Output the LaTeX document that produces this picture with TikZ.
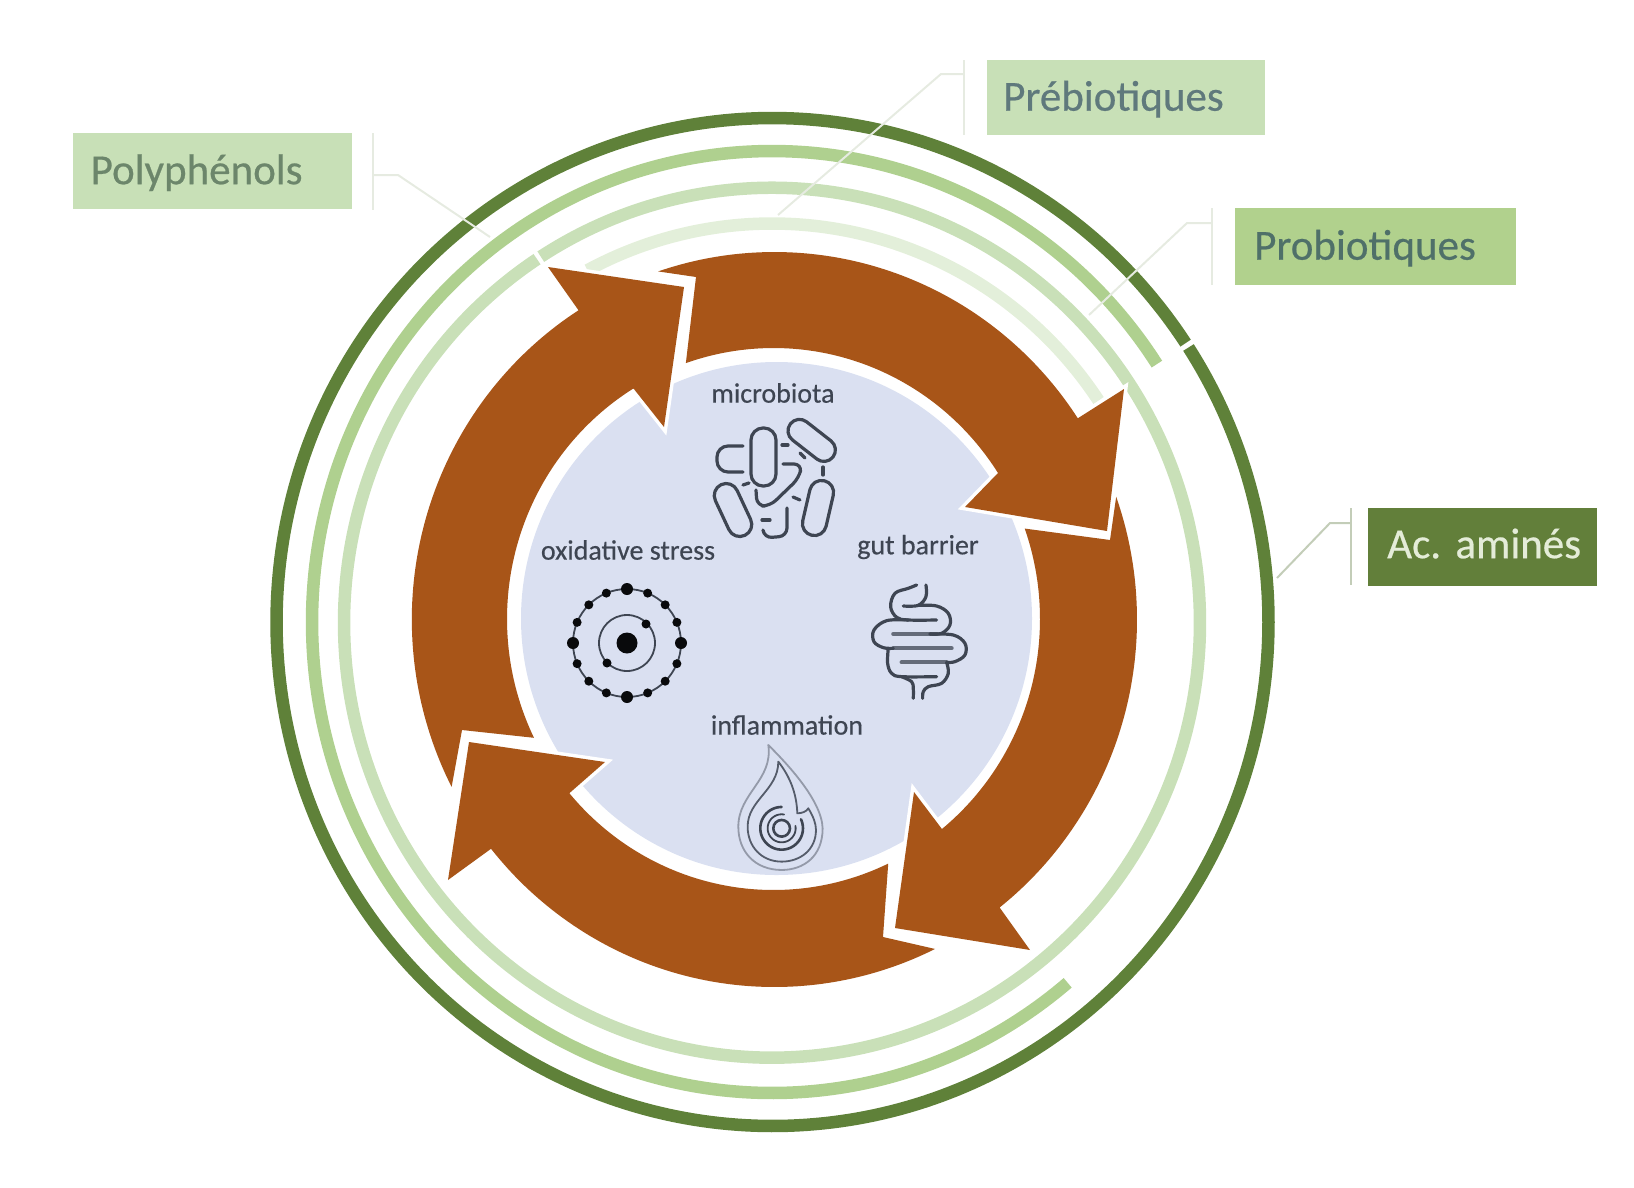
\documentclass[tikz,border=0pt]{standalone}
\usepackage{fontspec}
\setmainfont{Carlito}
\definecolor{ringA}{HTML}{5F8139}
\definecolor{ringB}{HTML}{AFD08F}
\definecolor{ringC}{HTML}{C9E0B8}
\definecolor{ringD}{HTML}{E3EFDA}
\definecolor{boxA}{HTML}{C8E0B7}
\definecolor{boxB}{HTML}{B1D18D}
\definecolor{boxC}{HTML}{627F3A}
\definecolor{rust}{HTML}{A85518}
\definecolor{discblue}{HTML}{DAE0F1}
\definecolor{ink}{HTML}{3E4552}
\definecolor{leadfaint}{HTML}{E6EBE1}
\definecolor{leaddark}{HTML}{C3CDB8}
\definecolor{txtpoly}{HTML}{6C866B}
\definecolor{txtpreb}{HTML}{5F797C}
\definecolor{txtprob}{HTML}{4F7069}
\definecolor{txtacam}{HTML}{E4ECD8}
\newcommand{\outarc}[2]{plot[domain=#1:#2,samples=80] ({774.4+362.6*cos(\x)},{619.5+367.5*sin(\x)})}
\newcommand{\inarc}[2]{-- plot[domain=#1:#2,samples=80] ({773.5+266.5*cos(\x)},{619+271*sin(\x)})}
\tikzset{
  ringline/.style={line width=12.5pt,line cap=butt},
  lblbox/.style={anchor=north west,inner ysep=0pt,align=left,
                 font=\fontsize{43}{46}\selectfont\addfontfeature{FakeBold=0.5},
                 text height=31pt,text depth=5pt},
  ilabel/.style={font=\fontsize{28}{30}\selectfont\addfontfeature{FakeBold=0.4},text=ink,inner sep=0pt},
  arrowseg/.style={fill=rust,preaction={draw=white,line width=7pt,line join=miter}},
  iconline/.style={draw=ink,line width=3.2pt,line cap=round,line join=round},
  thinicon/.style={draw=ink,line width=1.8pt,line cap=round,line join=round},
  gutfill/.style={draw=ink!75!discblue,line width=4.2pt,line cap=round},
  leadline/.style={line width=2pt,draw=leadfaint},
}
\begin{document}
\begin{tikzpicture}[x=1pt,y=-1pt]
\useasboundingbox (0,0) rectangle (1634,1187);
% rings
\draw[ringline,ringA] plot[domain=327:686.4,samples=360] ({772.5+496*cos(\x)},{622+504*sin(\x)});
\draw[ringline,ringB] plot[domain=50:326.8,samples=300] ({772+460*cos(\x)},{622+471*sin(\x)});
\draw[ringline,ringC] plot[domain=237.3:596.7,samples=360] ({772+428*cos(\x)},{622.7+435*sin(\x)});
\draw[ringline,ringD] plot[domain=242:326.2,samples=100] ({772+393*cos(\x)},{622.5+399*sin(\x)});
% label boxes
\node[lblbox,fill=boxA,text=txtpoly,text width=243.5pt,inner xsep=18pt,minimum height=76pt] (poly) at (72.5,133) {Polyphénols};
\node[lblbox,fill=boxA,text=txtpreb,text width=246pt,inner xsep=16pt,minimum height=75pt] (preb) at (987,60) {Prébiotiques};
\node[lblbox,fill=boxB,text=txtprob,text width=243pt,inner xsep=19pt,minimum height=77pt] (prob) at (1235,208) {Probiotiques};
\node[lblbox,fill=boxC,text=txtacam,text width=191pt,inner xsep=19pt,minimum height=78pt,text height=29pt,text depth=7pt] (acam) at (1368,508) {\mbox{Ac.\ aminés}};
% leader lines
\coordinate (polyT) at (372.5,133); \coordinate (polyB) at (372.5,210);
\coordinate (polyM) at (372.5,175); \coordinate (polyK) at (398,175); \coordinate (polyE) at (490,237);
\coordinate (prebT) at (964,60); \coordinate (prebB) at (964,135);
\coordinate (prebM) at (964,74); \coordinate (prebK) at (941,74); \coordinate (prebE) at (778,215);
\coordinate (probT) at (1212,208); \coordinate (probB) at (1212,285);
\coordinate (probM) at (1212,223); \coordinate (probK) at (1187,223); \coordinate (probE) at (1089,315);
\coordinate (acamT) at (1351,508); \coordinate (acamB) at (1351,585);
\coordinate (acamM) at (1351,523); \coordinate (acamK) at (1330,523); \coordinate (acamE) at (1277,578);
\draw[leadline] (polyT) -- (polyB);
\draw[leadline] (polyM) -- (polyK) -- (polyE);
\draw[leadline] (prebT) -- (prebB);
\draw[leadline] (prebM) -- (prebK) -- (prebE);
\draw[leadline] (probT) -- (probB);
\draw[leadline] (probM) -- (probK) -- (probE);
\draw[leadline,leaddark] (acamT) -- (acamB);
\draw[leadline,leaddark] (acamM) -- (acamK) -- (acamE);
% central disc
\fill[discblue] (776.5,618.5) ellipse [x radius=255.5pt,y radius=256.5pt];
% arrows
\path[arrowseg] \outarc{152.9}{237.3} -- (548,267) -- (684,287) -- (664,427) \inarc{238.3}{154} -- (462,730) -- cycle;
\path[arrowseg] \outarc{251.3}{326.8} -- (1124,389) -- (1107,531) -- (965,507) \inarc{327.4}{250.8} -- (696,277) -- cycle;
\path[arrowseg] \outarc{340.5}{411.6} -- (1030,950) -- (895,928) -- (914,792) \inarc{410.8}{340.5} -- (1110,540) -- cycle;
\path[arrowseg] \outarc{63.7}{141.4} -- (448,880) -- (469,742) -- (605,762) \inarc{140}{64.5} -- (883,937) -- cycle;
% labels
\node[ilabel] (lmicro) at (773,393) {microbiota};
\node[ilabel] (lgut) at (918,547) {gut barrier};
\node[ilabel] (loxi) at (628,550) {oxidative stress};
\node[ilabel] (linfl) at (787,725) {inflammation};
% microbiota icon
\draw[iconline,rounded corners=12pt] (751,428) rectangle (776,486);
\draw[iconline,rounded corners=11.5pt,rotate around={-38:(812,440)}] (785,429) rectangle (839,452);
\draw[iconline,rounded corners=12pt,rotate around={25:(733,510)}] (721,482) rectangle (745,538);
\draw[iconline,rounded corners=12pt,rotate around={-13:(818,508)}] (806,480) rectangle (830,536);
\draw[iconline,rounded corners=11pt] (743,446) -- (717,446) -- (717,472) -- (743,472);
\draw[iconline,rounded corners=8pt] (783,464) -- (802,464) -- (799,478) -- (770,506) -- (757,506) -- (756,490);
\draw[iconline,rounded corners=8pt] (787,508) -- (787,536) -- (764,538) -- (763,530);
\draw[iconline] (782,445) -- (788,445);
\draw[iconline] (800,453) -- (805,458);
\draw[iconline] (823,467) -- (823,475);
\draw[iconline] (743,485) -- (749,483);
\draw[iconline] (793,497) -- (800,500);
\draw[iconline] (762,520) -- (770,520);
% atom icon
\fill[black!85!ink] (627,643) circle [radius=10.5pt];
\draw[thinicon] (627,643) circle [radius=28pt];
\draw[thinicon] (627,643) circle [radius=54pt];
\foreach \a in {0,90,180,270} \fill[black!85!ink] ({627+54*cos(\a)},{643+54*sin(\a)}) circle [radius=6pt];
\foreach \a in {22.5,45,67.5,112.5,135,157.5,202.5,225,247.5,292.5,315,337.5}
  \fill[black!85!ink] ({627+54*cos(\a)},{643+54*sin(\a)}) circle [radius=4.5pt];
\fill[black!85!ink] (646,624) circle [radius=4.5pt];
\fill[black!85!ink] (607,663) circle [radius=4.5pt];
% gut icon
\begin{scope}[shift={(520,530)},x=0.3333pt,y=-0.3333pt]
\draw[gutfill] (1120,312) -- (1250,312);
\draw[gutfill] (1120,355) -- (1295,355);
\draw[gutfill] (1145,397) -- (1280,397);
\draw[iconline] plot[smooth,tension=.6] coordinates {(1190,165) (1165,175) (1125,190) (1112,230) (1130,262) (1165,270) (1250,270)};
\draw[iconline] plot[smooth,tension=.6] coordinates {(1218,165) (1218,200) (1195,226) (1150,228)};
\draw[iconline] plot[smooth,tension=.6] coordinates {(1195,226) (1250,228) (1285,250) (1290,285) (1265,310) (1230,312)};
\draw[iconline] plot[smooth,tension=.6] coordinates {(1165,270) (1100,272) (1062,300) (1062,335) (1090,353) (1120,355)};
\draw[iconline] plot[smooth,tension=.6] coordinates {(1230,312) (1300,315) (1335,340) (1335,375) (1305,395) (1280,397)};
\draw[iconline] plot[smooth,tension=.6] coordinates {(1105,355) (1103,400) (1115,430) (1145,440) (1250,440)};
\draw[iconline] plot[smooth,tension=.6] coordinates {(1280,397) (1285,430) (1265,460) (1225,470) (1210,485) (1208,505)};
\draw[iconline] plot[smooth,tension=.6] coordinates {(1145,440) (1175,455) (1180,475) (1180,505)};
\end{scope}
% flame icon
\begin{scope}[shift={(520,530)},x=0.3333pt,y=-0.3333pt]
\draw[thinicon,draw=ink!45!discblue] (745,645) .. controls (800,700) and (905,810) .. (908,895) .. controls (908,980) and (850,1020) .. (785,1020) .. controls (705,1020) and (655,965) .. (655,890) .. controls (655,790) and (760,750) .. (745,645) -- cycle;
\draw[thinicon,draw=ink!85!discblue] (775,695) .. controls (810,740) and (830,790) .. (832,850) .. controls (845,850) and (860,845) .. (865,835) .. controls (880,860) and (888,880) .. (888,900) .. controls (888,960) and (840,995) .. (785,995) .. controls (725,995) and (683,950) .. (683,890) .. controls (683,810) and (775,780) .. (775,695) -- cycle;
\draw[iconline,line width=2.6pt] (785,895) circle [radius=25];
\draw[iconline,line width=2.6pt] plot[domain=-25:270,samples=60] ({785+64*cos(\x)},{895+64*sin(\x)});
\draw[thinicon] plot[domain=-10:280,samples=60] ({785+42*cos(\x)},{895+42*sin(\x)});
\end{scope}
\end{tikzpicture}
\end{document}
